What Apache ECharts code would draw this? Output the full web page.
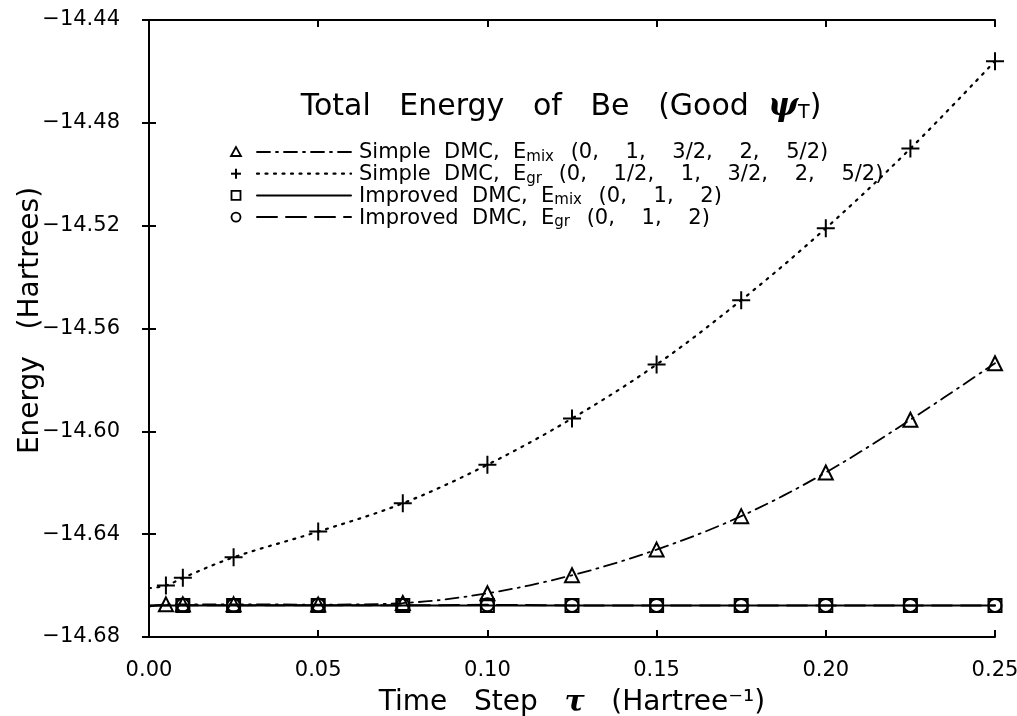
<!DOCTYPE html>
<html>
<head>
<meta charset="utf-8">
<script src="https://cdn.jsdelivr.net/npm/echarts@6/dist/echarts.min.js"></script>
<style>html,body{margin:0;padding:0;background:#fff;}#c{width:1017px;height:716px;}</style>
</head>
<body>
<div id="c"></div>
<script>
// ---- data ----
const tauSimple = [0.005, 0.01, 0.025, 0.05, 0.075, 0.10, 0.125, 0.15, 0.175, 0.20, 0.225, 0.25];
const eMixSimple = [-14.6673, -14.6673, -14.6673, -14.6674, -14.6668, -14.6630, -14.6560, -14.6460, -14.6330, -14.6160, -14.5955, -14.5735];
const eGrSimple  = [-14.6600, -14.6570, -14.6490, -14.6390, -14.6280, -14.6130, -14.5950, -14.5740, -14.5490, -14.5210, -14.4900, -14.4560];
const tauImproved = [0.01, 0.025, 0.05, 0.075, 0.10, 0.125, 0.15, 0.175, 0.20, 0.225, 0.25];
const eMixImproved = [-14.6677, -14.6677, -14.6677, -14.6677, -14.6677, -14.6677, -14.6677, -14.6677, -14.6677, -14.6677, -14.6677];
const eGrImproved  = [-14.6676, -14.6677, -14.6676, -14.6677, -14.6675, -14.6677, -14.6677, -14.6677, -14.6677, -14.6677, -14.6677];
// fitted curves read at tau = 0 (left edge of the plot)
const fitTau0 = [0];
const eMixSimpleFit0 = [-14.6682];
const eGrSimpleFit0  = [-14.6610];
const eMixImprovedFit0 = [-14.6677];
const eGrImprovedFit0  = [-14.6678];
const legendLabels = [
  'Simple  DMC,  {e|E}{sub|mix} (0,    1,    3/2,    2,    5/2)',
  'Simple  DMC,  {e|E}{sub|gr} (0,    1/2,    1,    3/2,    2,    5/2)',
  'Improved  DMC,  {e|E}{sub|mix} (0,    1,    2)',
  'Improved  DMC,  {e|E}{sub|gr} (0,    1,    2)'
];
const titleText = '{t|Total   Energy   of   Be   (Good  }{psi|ψ}{sub|T}{t|)}';
const xName = 'Time   Step   {tau|τ}   (Hartree⁻¹)';
const yName = 'Energy   (Hartrees)';

const zip = (xs, ys) => xs.map((x, i) => [x, ys[i]]);
const FONT = 'DejaVu Sans';
const BLACK = '#000';

const PLUS = 'path://M0,10L20,10M10,0L10,20';
const styles = [
  { sym: 'triangle', size: 14, dash: [13, 6, 2, 6], width: 1.8 },
  { sym: PLUS, size: 18, dash: [2, 6.5], width: 2.2 },
  { sym: 'rect', size: 13, dash: 'solid', width: 2 },
  { sym: 'circle', size: 13, dash: [20, 9], width: 2 }
];
const pointSets = [
  zip(tauSimple, eMixSimple),
  zip(tauSimple, eGrSimple),
  zip(tauImproved, eMixImproved),
  zip(tauImproved, eGrImproved)
];
const fitStarts = [
  zip(fitTau0, eMixSimpleFit0),
  zip(fitTau0, eGrSimpleFit0),
  zip(fitTau0, eMixImprovedFit0),
  zip(fitTau0, eGrImprovedFit0)
];

const series = [];
pointSets.forEach((pts, i) => {
  const s = styles[i];
  series.push({
    type: 'line',
    data: fitStarts[i].concat(pts),
    smooth: i < 2 ? 0.35 : false,
    showSymbol: false,
    silent: true,
    z: 2,
    lineStyle: { color: BLACK, width: s.width, type: s.dash, cap: 'round', opacity: 1 }
  });
  series.push({
    type: 'scatter',
    data: pts,
    symbol: s.sym,
    symbolSize: s.size,
    symbolKeepAspect: true,
    silent: true,
    z: 3,
    itemStyle: { color: 'rgba(0,0,0,0)', borderColor: BLACK, borderWidth: 2, opacity: 1 }
  });
});

// legend built as graphic (marker, line sample, text)
const legendX = 236, legendY0 = 152, legendDY = 21.7;
const graphic = [];
legendLabels.forEach((lab, i) => {
  const y = legendY0 + i * legendDY;
  const s = styles[i];
  let marker;
  if (i === 0) marker = { type: 'polygon', shape: { points: [[legendX, y - 5], [legendX - 5, y + 4], [legendX + 5, y + 4]] } };
  else if (i === 1) marker = { type: 'group', children: [
      { type: 'line', shape: { x1: legendX - 5, y1: y, x2: legendX + 5, y2: y }, style: { stroke: BLACK, lineWidth: 2 } },
      { type: 'line', shape: { x1: legendX, y1: y - 5, x2: legendX, y2: y + 5 }, style: { stroke: BLACK, lineWidth: 2 } }
    ] };
  else if (i === 2) marker = { type: 'rect', shape: { x: legendX - 4.5, y: y - 4.5, width: 9, height: 9 } };
  else marker = { type: 'circle', shape: { cx: legendX, cy: y, r: 4.5 } };
  if (marker.type !== 'group') marker.style = { fill: 'none', stroke: BLACK, lineWidth: 1.8 };
  graphic.push(marker);
  graphic.push({ type: 'line', shape: { x1: 257, y1: y, x2: 351, y2: y },
    style: { stroke: BLACK, lineWidth: s.width, lineDash: s.dash === 'solid' ? null : s.dash, lineCap: 'round' } });
  graphic.push({ type: 'text', x: 359, y: y + 1, style: {
    text: lab, fill: BLACK, font: '21px "' + FONT + '"', verticalAlign: 'middle',
    rich: {
      e: { fontSize: 21, fontFamily: FONT, fill: BLACK },
      sub: { fontSize: 15, fontFamily: FONT, fill: BLACK, padding: [8, 10, 0, 0] }
    }
  } });
});

const axisCommon = {
  type: 'value',
  axisLine: { show: true, lineStyle: { color: BLACK, width: 2 } },
  axisTick: { show: true, inside: true, length: 7, lineStyle: { color: BLACK, width: 2 } },
  splitLine: { show: false }
};
const fmt = v => (v < 0 ? '−' : '') + Math.abs(v).toFixed(2);

const option = {
  backgroundColor: '#fff',
  animation: false,
  title: {
    text: titleText,
    left: 556, top: 86, textAlign: 'center',
    textStyle: {
      fontWeight: 'normal',
      rich: {
        t: { fontSize: 30, fontFamily: FONT, fontWeight: 'normal', color: BLACK },
        psi: { fontSize: 32, fontFamily: 'DejaVu Serif', fontStyle: 'italic', fontWeight: 'bold', color: BLACK },
        sub: { fontSize: 19, fontFamily: FONT, fontWeight: 'normal', color: BLACK, padding: [12, 0, 0, 0] }
      }
    }
  },
  grid: { left: 149, right: 22, top: 20, bottom: 79, show: false, containLabel: false, outerBoundsMode: 'none' },
  xAxis: [
    Object.assign({}, axisCommon, {
      min: 0, max: 0.25, interval: 0.05, position: 'bottom',
      axisLabel: { margin: 23, fontSize: 21, fontFamily: FONT, color: BLACK, formatter: fmt },
      name: xName, nameLocation: 'middle', nameGap: 51, nameMoveOverlap: false,
      nameTextStyle: { fontSize: 28, fontFamily: FONT, color: BLACK,
        rich: { tau: { fontSize: 30, fontFamily: 'DejaVu Serif', fontStyle: 'italic', fontWeight: 'bold', color: BLACK } } }
    }),
    Object.assign({}, axisCommon, {
      min: 0, max: 0.25, interval: 0.05, position: 'top', axisLabel: { show: false }
    })
  ],
  yAxis: [
    Object.assign({}, axisCommon, {
      min: -14.68, max: -14.44, interval: 0.04, position: 'left',
      axisLabel: { margin: 29, fontSize: 21, fontFamily: FONT, color: BLACK, formatter: fmt },
      name: yName, nameLocation: 'middle', nameGap: 104, nameMoveOverlap: false,
      nameTextStyle: { fontSize: 28, fontFamily: FONT, color: BLACK, padding: [0, 0, 0, 16] }
    }),
    Object.assign({}, axisCommon, {
      min: -14.68, max: -14.44, interval: 0.04, position: 'right', axisLabel: { show: false }
    })
  ],
  graphic: graphic,
  series: series
};

const chart = echarts.init(document.getElementById('c'), null, { renderer: 'canvas' });
chart.setOption(option);
</script>
</body>
</html>
